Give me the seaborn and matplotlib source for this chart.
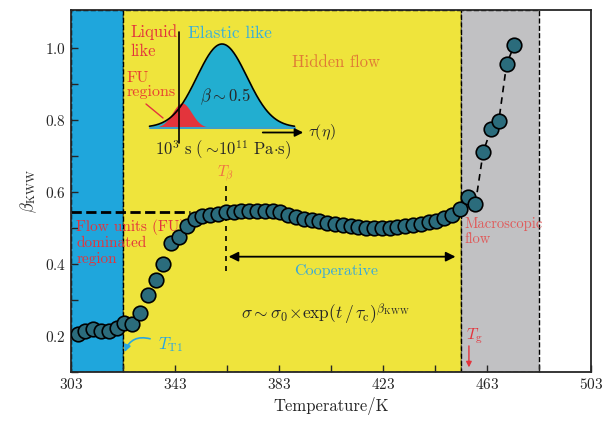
import matplotlib.pyplot as plt
import numpy as np
import pandas as pd
import seaborn as sns

# beta_KWW vs temperature
temps = [305.6, 308.6, 311.6, 314.6, 317.6, 320.6, 323.6, 326.6, 329.6, 332.6,
         335.6, 338.6, 341.6, 344.6, 347.6, 350.6, 353.6, 356.6, 359.6, 362.6,
         365.6, 368.6, 371.6, 374.6, 377.6, 380.6, 383.6, 386.6, 389.6, 392.6,
         395.6, 398.6, 401.6, 404.6, 407.6, 410.6, 413.6, 416.6, 419.6, 422.6,
         425.6, 428.6, 431.6, 434.6, 437.6, 440.6, 443.6, 446.6, 449.6, 452.6,
         455.6, 458.6, 461.6, 464.6, 467.6, 470.6, 473.6]
beta = [0.204, 0.214, 0.219, 0.214, 0.214, 0.222, 0.236, 0.233, 0.263, 0.313,
        0.355, 0.401, 0.457, 0.475, 0.505, 0.526, 0.533, 0.537, 0.539, 0.543,
        0.545, 0.548, 0.548, 0.548, 0.548, 0.547, 0.545, 0.537, 0.530, 0.526,
        0.521, 0.518, 0.514, 0.511, 0.508, 0.505, 0.502, 0.500, 0.500, 0.500,
        0.500, 0.502, 0.505, 0.508, 0.512, 0.516, 0.520, 0.527, 0.537, 0.553,
        0.585, 0.567, 0.711, 0.774, 0.797, 0.955, 1.008]
n_fit = 6  # last points joined by the dashed line

# temperature regions
T_T1 = 323
T_g = 453
T_end = 483
T_beta = 362.6
beta_plateau = 0.545

df = pd.DataFrame({'T': temps, 'beta': beta})

sns.set_style('ticks')
plt.rcParams['font.family'] = 'cmr10'
plt.rcParams['mathtext.fontset'] = 'cm'
plt.rcParams['axes.unicode_minus'] = False
plt.rcParams['axes.formatter.use_mathtext'] = True

fig = plt.figure(figsize=(6.06, 4.32), dpi=100)
ax = fig.add_axes([0.117, 0.139, 0.858, 0.838])

blue = '#1fa6dc'
yellow = '#efe43c'
gray = '#c1c1c3'
teal = '#2b6c7c'
red = '#e3343c'

ax.axvspan(303, T_T1, facecolor=blue, edgecolor='k', ls='--', lw=1, zorder=0)
ax.axvspan(T_T1, T_g, facecolor=yellow, edgecolor='k', ls='--', lw=1, zorder=0)
ax.axvspan(T_g, T_end, facecolor=gray, edgecolor='k', ls='--', lw=1, zorder=0)

# plateau and T_beta guides
ax.plot([303, 349], [beta_plateau, beta_plateau], ls='--', color='k', lw=2, zorder=1)
ax.plot([T_beta, T_beta], [0.38, 0.62], ls=(0, (3, 3)), color='k', lw=1.2, zorder=1)
ax.text(T_beta, 0.65, r'$T_\beta$', color='#f07045', fontsize=11, ha='center', va='center')

# cooperative arrow
ax.annotate('', xy=(452, 0.42), xytext=(T_beta, 0.42),
            arrowprops=dict(arrowstyle='<|-|>', color='k', lw=1.3, mutation_scale=14))
ax.text(405, 0.38, 'Cooperative', color='#3aa9d8', fontsize=11.5, ha='center', va='center')

sns.lineplot(data=df.tail(n_fit), x='T', y='beta', ax=ax,
             color='k', lw=1.2, ls=(0, (4, 3)), zorder=2)
sns.scatterplot(data=df, x='T', y='beta', ax=ax, s=110, color=teal,
                edgecolor='k', linewidth=1.2, zorder=3)

ax.text(401, 0.262, r'$\sigma\sim\sigma_0\!\times\!\exp(t\,/\,\tau_{\rm c})^{\beta_{\rm KWW}}$',
        fontsize=12.5, ha='center', va='center')
ax.text(405, 0.96, 'Hidden flow', color='#e07a35', fontsize=12, ha='center', va='center')
ax.text(305, 0.525, 'Flow units (FU)\ndominated\nregion', color=red, fontsize=11,
        ha='left', va='top', linespacing=1.15, zorder=2)
ax.text(454.5, 0.53, 'Macroscopic\nflow', color='#e05a5a', fontsize=10.5,
        ha='left', va='top', linespacing=1.15)
ax.text(454.8, 0.2, r'$T_{\rm g}$', color=red, fontsize=11.5, ha='left', va='center')
ax.annotate('', xy=(456.1, 0.105), xytext=(456.1, 0.18),
            arrowprops=dict(arrowstyle='-|>', color=red, lw=1, mutation_scale=8))
ax.text(336.5, 0.176, r'$T_{\rm T1}$', color='#2aa6e0', fontsize=12, ha='left', va='center')
ax.annotate('', xy=(323.3, 0.148), xytext=(334.5, 0.19),
            arrowprops=dict(arrowstyle='-|>', color='#2aa6e0', lw=1.2, mutation_scale=10,
                            connectionstyle='arc3,rad=0.5'))

ax.set_xlim(303, 503)
ax.set_ylim(0.105, 1.105)
ax.set_xticks([303, 343, 383, 423, 463, 503])
ax.set_xticks(np.arange(323, 503, 40), minor=True)
ax.set_yticks([0.2, 0.4, 0.6, 0.8, 1.0])
ax.set_yticks(np.arange(0.1, 1.1, 0.2), minor=True)
ax.tick_params(direction='in', length=5, width=1, labelsize=11)
ax.tick_params(which='minor', direction='in', length=5, width=1)
ax.set_xlabel('Temperature/K', fontsize=12)
ax.set_ylabel(r'$\beta_{\rm KWW}$', fontsize=12)
for sp in ax.spines.values():
    sp.set_linewidth(1.3)

# schematic inset: relaxation time distributions
ins = fig.add_axes([140 / 606, 1 - 160 / 432, 170 / 606, 140 / 432])
ins.set_xlim(0, 170)
ins.set_ylim(0, 140)
ins.axis('off')
ins.patch.set_alpha(0)
base = 32.5
big_c, big_w, big_h = 82, 25, 83.5
fu_c, fu_w, fu_h = 42, 9.5, 24.5
xb = np.linspace(big_c - 2.9 * big_w, big_c + 2.9 * big_w, 200)
yb = base + big_h * np.exp(-0.5 * ((xb - big_c) / big_w) ** 2)
xr = np.linspace(fu_c - 2.8 * fu_w, fu_c + 2.6 * fu_w, 120)
yr = base + fu_h * np.exp(-0.5 * ((xr - fu_c) / fu_w) ** 2)
ins.fill_between(xb, base, yb, color='#22aed0', lw=0)
ins.plot(xb, yb, color='k', lw=1.2)
ins.fill_between(xr, base, yr, color=red, lw=0)
ins.plot([xb[0], xb[-1]], [base, base], color='#3aa0c8', lw=1.5)
ins.plot([39, 39], [17, 128], color='k', lw=1.2)
ins.annotate('', xy=(166, 27.5), xytext=(120, 27.5),
             arrowprops=dict(arrowstyle='-|>', color='k', lw=1.3, mutation_scale=12))
ins.text(168, 27.5, r'$\tau(\eta)$', fontsize=11.5, ha='left', va='center', clip_on=False)
ins.text(83, 10, r'$10^3\ {\rm s}\ (\sim\!10^{11}\ {\rm Pa{\cdot}s})$', fontsize=12,
         ha='center', va='center')
ins.text(-10, 118, 'Liquid\nlike', color=red, fontsize=12, ha='left', va='center',
         linespacing=1.3, clip_on=False)
ins.text(48, 127, 'Elastic like', color='#3ab0d8', fontsize=12.5, ha='left', va='center')
ins.text(-13, 75, 'FU\nregions', color='#e84030', fontsize=11.5, ha='left', va='center',
         linespacing=1.05, clip_on=False)
ins.plot([6, 23], [56, 42], color=red, lw=1)
ins.text(85, 63, r'$\beta\sim0.5$', fontsize=12, ha='center', va='center')

fig.savefig('out.png', dpi=100)
